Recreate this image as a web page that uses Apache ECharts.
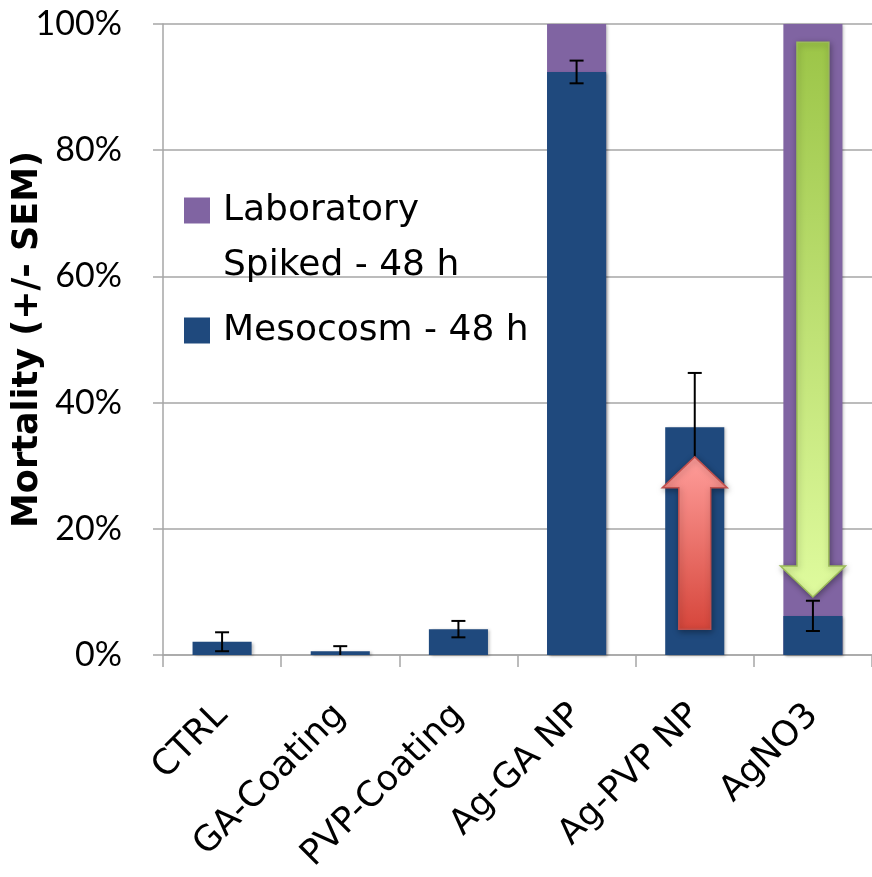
<!DOCTYPE html>
<html>
<head>
<meta charset="utf-8">
<script src="https://cdn.jsdelivr.net/npm/echarts@6/dist/echarts.min.js"></script>
<style>
  html, body { margin: 0; padding: 0; background: #fff; }
  #chart { width: 872px; height: 877px; }
</style>
</head>
<body>
<div id="chart"></div>
<script>
// Treatments on the x axis
const categories = ['CTRL', 'GA-Coating', 'PVP-Coating', 'Ag-GA NP', 'Ag-PVP NP', 'AgNO3'];
// Mortality (%) after 48 h
const labSpiked = [0, 0, 0, 100, 0, 100];
const mesocosm = [2.1, 0.6, 4.1, 92.4, 36.1, 6.2];
const mesocosmSem = [1.5, 0.8, 1.3, 1.8, 8.6, 2.4];
// Shift arrows: treatment, start (%), end (%)
const arrowCategory = ['Ag-PVP NP', 'AgNO3'];
const arrowFrom = [4.1, 97.1];
const arrowTo = [31.4, 9.2];
// Y axis ticks
const yTicks = [0, 20, 40, 60, 80, 100];

const TICK_FONT = 'Lato, "Open Sans", sans-serif';
const TEXT_FONT = '"DejaVu Sans", "Open Sans", sans-serif';
const LAB_COLOR = '#8064a2';
const MESO_COLOR = '#1f497d';
const GRID_COLOR = '#a6a6a6';

const arrowStyles = [
  { top: '#ff9e9b', bottom: '#d6463b', stroke: '#c0504d' },
  { top: '#9cc548', bottom: '#dffb9e', stroke: '#9bbb59' }
];

const errData = mesocosm.map((v, i) => [i, v - mesocosmSem[i], v + mesocosmSem[i]]);
const arrowData = arrowCategory.map((c, i) => [categories.indexOf(c), arrowFrom[i], arrowTo[i]]);

function renderError(params, api) {
  const x = api.value(0);
  let lo = api.value(1);
  const hi = api.value(2);
  const clipped = lo < 0;
  if (clipped) lo = 0;
  const pLo = api.coord([x, lo]);
  const pHi = api.coord([x, hi]);
  const hw = 7;
  const style = { stroke: '#000', lineWidth: 2 };
  const children = [
    { type: 'line', shape: { x1: pLo[0], y1: pLo[1], x2: pHi[0], y2: pHi[1] }, style },
    { type: 'line', shape: { x1: pHi[0] - hw, y1: pHi[1], x2: pHi[0] + hw, y2: pHi[1] }, style }
  ];
  if (!clipped) {
    children.push({ type: 'line', shape: { x1: pLo[0] - hw, y1: pLo[1], x2: pLo[0] + hw, y2: pLo[1] }, style });
  }
  return { type: 'group', children };
}

function renderArrow(params, api) {
  const c = api.value(0);
  const p0 = api.coord([c, api.value(1)]);
  const p1 = api.coord([c, api.value(2)]);
  const band = api.size([1, 0])[0];
  const cx = p0[0];
  const sw = band * 0.135;
  const hw = band * 0.275;
  const dir = p1[1] < p0[1] ? -1 : 1;
  const headLen = 31;
  const baseY = p1[1] - dir * headLen;
  const s = arrowStyles[params.dataIndex];
  return {
    type: 'polygon',
    shape: {
      points: [
        [cx - sw, p0[1]], [cx - sw, baseY], [cx - hw, baseY], [cx, p1[1]],
        [cx + hw, baseY], [cx + sw, baseY], [cx + sw, p0[1]]
      ]
    },
    style: {
      fill: new echarts.graphic.LinearGradient(0, 0, 0, 1, [
        { offset: 0, color: s.top },
        { offset: 1, color: s.bottom }
      ]),
      stroke: s.stroke,
      lineWidth: 1.5,
      shadowBlur: 6,
      shadowOffsetX: 1,
      shadowOffsetY: 2,
      shadowColor: 'rgba(0,0,0,0.35)'
    }
  };
}

const chart = echarts.init(document.getElementById('chart'), null, { renderer: 'canvas' });

const barShadow = {
  shadowBlur: 3,
  shadowOffsetX: 2,
  shadowOffsetY: 1,
  shadowColor: 'rgba(0,0,0,0.25)'
};

const legendText = { fontFamily: TEXT_FONT, fontSize: 36, color: '#000', lineHeight: 55, padding: [0, 0, 0, 8] };

chart.setOption({
  animation: false,
  textStyle: { fontFamily: TICK_FONT },
  grid: { left: 163, right: 0, top: 24, bottom: 222, containLabel: false, outerBoundsMode: 'none' },
  legend: [
    {
      left: 184,
      top: 128,
      padding: 0,
      itemWidth: 26,
      itemHeight: 26,
      icon: 'rect',
      data: ['Laboratory Spiked - 48 h'],
      // blank first line keeps the swatch level with "Laboratory"
      formatter: n => ' \n' + n.replace(' Spiked', '\nSpiked'),
      textStyle: legendText
    },
    {
      left: 184,
      top: 303,
      padding: 0,
      itemWidth: 26,
      itemHeight: 26,
      icon: 'rect',
      data: ['Mesocosm - 48 h'],
      textStyle: legendText
    }
  ],
  xAxis: {
    type: 'category',
    data: categories,
    axisLine: { lineStyle: { color: GRID_COLOR, width: 1.5 } },
    axisTick: { show: true, length: 12, lineStyle: { color: GRID_COLOR, width: 1.5 } },
    axisLabel: { rotate: 45, margin: 55, fontSize: 35, color: '#000', fontFamily: TEXT_FONT, interval: 0 }
  },
  yAxis: {
    type: 'value',
    min: 0,
    max: 100,
    interval: 20,
    name: 'Mortality (+/- SEM)',
    nameLocation: 'middle',
    nameGap: 118,
    nameMoveOverlap: false,
    nameTextStyle: { fontSize: 35, fontWeight: 'bold', color: '#000', fontFamily: TEXT_FONT },
    axisLine: { show: true, lineStyle: { color: GRID_COLOR, width: 1.5 } },
    axisTick: { show: true, length: 10, lineStyle: { color: GRID_COLOR, width: 1.5 } },
    splitLine: { lineStyle: { color: GRID_COLOR, width: 1.5 } },
    axisLabel: {
      margin: 41,
      fontSize: 34,
      color: '#000',
      fontFamily: TICK_FONT,
      customValues: yTicks,
      formatter: '{value}%'
    }
  },
  series: [
    {
      name: 'Laboratory Spiked - 48 h',
      type: 'bar',
      data: labSpiked,
      barWidth: '50%',
      barGap: '-100%',
      itemStyle: Object.assign({ color: LAB_COLOR }, barShadow),
      z: 2
    },
    {
      name: 'Mesocosm - 48 h',
      type: 'bar',
      data: mesocosm,
      barWidth: '50%',
      barGap: '-100%',
      itemStyle: Object.assign({ color: MESO_COLOR }, barShadow),
      z: 3
    },
    {
      name: 'SEM',
      type: 'custom',
      renderItem: renderError,
      data: errData,
      encode: { x: 0, y: [1, 2] },
      z: 4
    },
    {
      name: 'Shift',
      type: 'custom',
      renderItem: renderArrow,
      data: arrowData,
      encode: { x: 0, y: [1, 2] },
      z: 5
    }
  ]
});
</script>
</body>
</html>
